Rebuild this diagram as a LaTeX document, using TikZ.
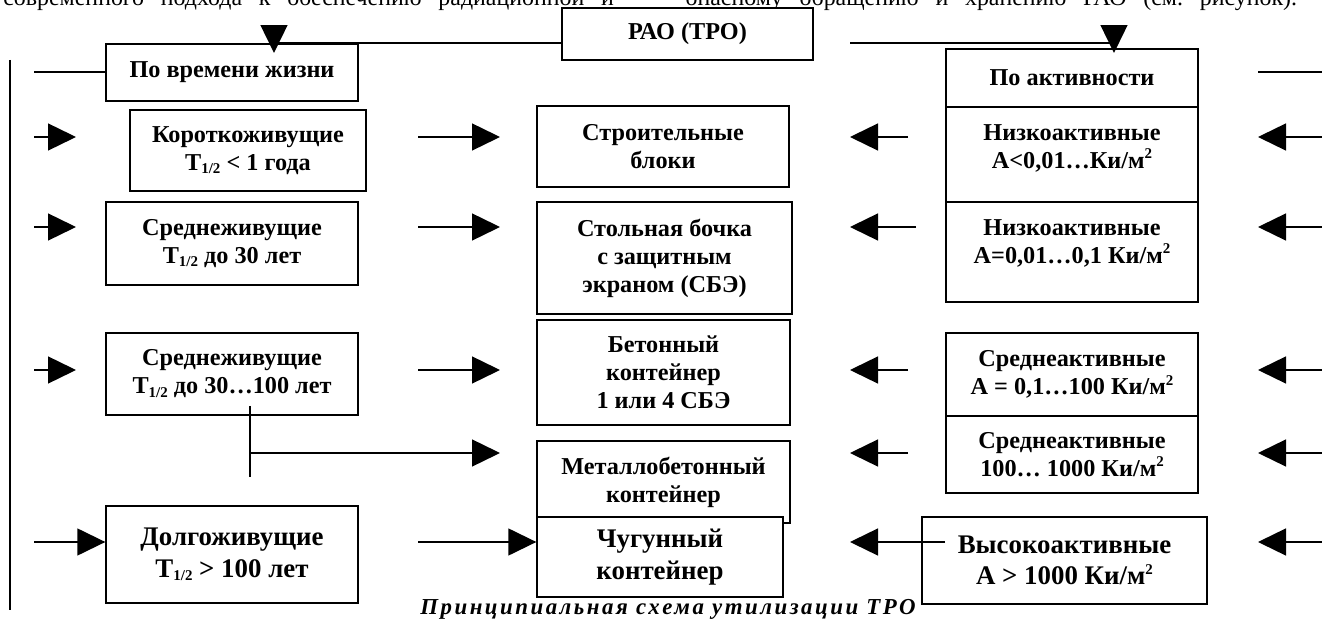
\documentclass[tikz,border=0pt]{standalone}
\usepackage{fontspec}
\setmainfont{Liberation Serif}
\newfontfamily\capfont[LetterSpace=11]{Liberation Serif}
\usepackage{tikz}
\usetikzlibrary{arrows.meta}

\newcommand{\half}{\raisebox{-0.3ex}{\fontsize{8.5}{8.5}\selectfont 1/2}}
\newcommand{\sqr}{\raisebox{0.85ex}{\fontsize{8.5}{8.5}\selectfont 2}}
\newcommand{\up}[2]{\raisebox{#1}[\height][\depth]{\begin{tabular}{@{}c@{}}#2\end{tabular}}}
\frenchspacing

\begin{document}
\begin{tikzpicture}[x=0.02cm, y=-0.02cm,
            box/.style={draw, line width=0.8pt, fill=white, align=center, inner sep=0pt,
                font=\fontsize{13.8}{15.9}\selectfont\bfseries}, % Rectangle for every block
            bigbox/.style={box, font=\fontsize{15.3}{18}\selectfont\bfseries}, % Bottom row has larger text
            ln/.style={line width=0.8pt},
            arr/.style={ln, -{Triangle[length=0.56cm, width=0.54cm]}}
            ]
        \useasboundingbox (0,0) rectangle (1322,621);
        \clip (0,0) rectangle (1322,621);

        % Line of the page text above the figure, cut off at the top
        \node[anchor=base west, inner sep=0pt, font=\fontsize{13.6}{15}\selectfont] (txt) at (3,5.5)
            {\makebox[25.88cm][s]{современного подхода к обеспечению радиационной и\hspace{3em}опасному обращению и хранению РАО (см. рисунок).}};

        % Root block
        \node[box, minimum width=5.02cm, minimum height=1.04cm] (rao) at (687.5,34) {РАО (ТРО)};

        % By lifetime
        \node[box, minimum width=5.04cm, minimum height=1.14cm] (poVr) at (232,72.5) {По времени жизни};
        \node[box, minimum width=4.72cm, minimum height=1.62cm] (korot) at (248,150.5) {Короткоживущие\\Т\half{} < 1 года};
        \node[box, minimum width=5.04cm, minimum height=1.66cm] (sred1) at (232,243.5) {Среднеживущие\\Т\half{} до 30 лет};
        \node[box, minimum width=5.04cm, minimum height=1.64cm] (sred2) at (232,374) {Среднеживущие\\Т\half{} до 30…100 лет};
        \node[bigbox, minimum width=5.04cm, minimum height=1.94cm] (dolg) at (232,554.5) {Долгоживущие\\Т\half{} > 100 лет};

        % Containers
        \node[box, minimum width=5.04cm, minimum height=1.62cm] (stroi) at (663,146.5) {Строительные\\блоки};
        \node[box, minimum width=5.10cm, minimum height=2.24cm] (bochka) at (664.5,258) {Стольная бочка\\с защитным\\экраном (СБЭ)};
        \node[box, minimum width=5.06cm, minimum height=2.10cm] (beton) at (663.5,372.5) {Бетонный\\контейнер\\1 или 4 СБЭ};
        \node[box, minimum width=5.06cm, minimum height=1.64cm] (metal) at (663.5,482) {Металлобетонный\\контейнер};
        \node[bigbox, minimum width=4.92cm, minimum height=1.60cm] (chug) at (660,557) {Чугунный\\контейнер};

        % By activity
        \node[box, minimum width=5.04cm, minimum height=1.16cm] (poAkt) at (1072,78) {По активности};
        \node[box, minimum width=5.04cm, minimum height=1.90cm] (nizk1) at (1072,154.5) {\up{0.12cm}{Низкоактивные\\А<0,01…Ки/м\sqr}};
        \node[box, minimum width=5.04cm, minimum height=2.00cm] (nizk2) at (1072,252) {\up{0.17cm}{Низкоактивные\\А=0,01…0,1 Ки/м\sqr}};
        \node[box, minimum width=5.04cm, minimum height=1.66cm] (srak1) at (1072,374.5) {Среднеактивные\\А = 0,1…100 Ки/м\sqr};
        \node[box, minimum width=5.04cm, minimum height=1.54cm] (srak2) at (1072,454.5) {Среднеактивные\\100… 1000 Ки/м\sqr};
        \node[bigbox, minimum width=5.70cm, minimum height=1.74cm] (vys) at (1064.5,560.5) {Высокоактивные\\А > 1000 Ки/м\sqr};

        % Caption
        \node[anchor=base, inner sep=0pt, font=\capfont\fontsize{13}{15}\selectfont\bfseries\itshape] (cap) at (668,614)
            {Принципиальная схема утилизации ТРО};

        % Free ends of the lines
        \coordinate (raoL) at (562,43);   \coordinate (tipL) at (274,53);
        \coordinate (raoR) at (850,43);   \coordinate (tipR) at (1114,53);
        \coordinate (vTop) at (10,60);    \coordinate (vBot) at (10,610);
        \coordinate (a0) at (34,72);
        \coordinate (a1) at (34,137);     \coordinate (b1) at (76,137);
        \coordinate (a2) at (34,227);     \coordinate (b2) at (76,227);
        \coordinate (a3) at (34,370);     \coordinate (b3) at (76,370);
        \coordinate (a5) at (34,542);
        \coordinate (c1) at (418,137);    \coordinate (d1) at (500,137);
        \coordinate (c2) at (418,227);    \coordinate (d2) at (500,227);
        \coordinate (c3) at (418,370);    \coordinate (d3) at (500,370);
        \coordinate (tTop) at (250,406);  \coordinate (tBot) at (250,477);
        \coordinate (j4) at (250,453);    \coordinate (d4) at (500,453);
        \coordinate (c5) at (418,542);
        \coordinate (e1) at (908,137);    \coordinate (f1) at (850,137);
        \coordinate (e2) at (916,227);    \coordinate (f2) at (850,227);
        \coordinate (e3) at (908,370);    \coordinate (f3) at (850,370);
        \coordinate (e4) at (908,453);    \coordinate (f4) at (850,453);
        \coordinate (e5) at (945,542);    \coordinate (f5) at (850,542);
        \coordinate (g0) at (1322,72);    \coordinate (h0) at (1258,72);
        \coordinate (g1) at (1322,137);   \coordinate (h1) at (1258,137);
        \coordinate (g2) at (1322,227);   \coordinate (h2) at (1258,227);
        \coordinate (g3) at (1322,370);   \coordinate (h3) at (1258,370);
        \coordinate (g4) at (1322,453);   \coordinate (h4) at (1258,453);
        \coordinate (g5) at (1322,542);   \coordinate (h5) at (1258,542);

        % Root splits into the two classifications
        \draw[arr] (raoL) -| (tipL);
        \draw[arr] (raoR) -| (tipR);

        % Left side
        \draw[ln] (vTop) -- (vBot);
        \draw[ln] (a0) -- (a0 -| poVr.west);
        \draw[arr] (a1) -- (b1);
        \draw[arr] (a2) -- (b2);
        \draw[arr] (a3) -- (b3);
        \draw[arr] (a5) -- (a5 -| dolg.west);

        % Lifetime to container
        \draw[arr] (c1) -- (d1);
        \draw[arr] (c2) -- (d2);
        \draw[arr] (c3) -- (d3);
        \draw[ln] (tTop) -- (tBot);
        \draw[arr] (j4) -- (d4);
        \draw[arr] (c5) -- (c5 -| chug.west);

        % Activity to container
        \draw[arr] (e1) -- (f1);
        \draw[arr] (e2) -- (f2);
        \draw[arr] (e3) -- (f3);
        \draw[arr] (e4) -- (f4);
        \draw[arr] (e5) -- (f5);

        % Right side
        \draw[ln] (h0) -- (g0);
        \draw[arr] (g1) -- (h1);
        \draw[arr] (g2) -- (h2);
        \draw[arr] (g3) -- (h3);
        \draw[arr] (g4) -- (h4);
        \draw[arr] (g5) -- (h5);

\end{tikzpicture}
\end{document}
